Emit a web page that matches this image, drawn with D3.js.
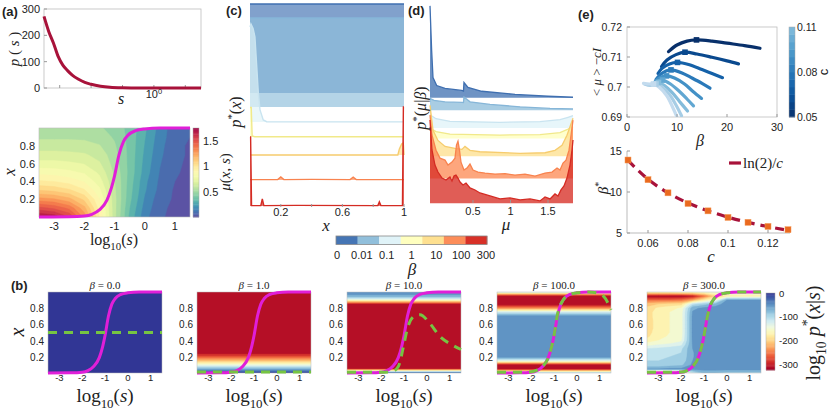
<!DOCTYPE html>
<html><head><meta charset="utf-8">
<script src="https://cdn.jsdelivr.net/npm/d3@7"></script>
<style>
body{margin:0;background:#fff}
svg{display:block;font-family:"Liberation Sans",Arial,sans-serif}
text{fill:#222}
</style></head><body>
<svg id="fig" width="830" height="410"></svg>
<script>
// ================= DATA =================
// (a) top: p(s) vs log10 s
const pLogS = [-3.5,-3.35,-3.2,-3.05,-2.9,-2.75,-2.6,-2.4,-2.2,-2.0,-1.7,-1.4,-1.0,-0.5,0,0.5,1,1.5];
const pVal  = [272,215,171,120,87,66,49,33,21,14,7,3,1,0.3,0,0,0,0];
const pTicks = [0,100,200,300];

// optimal threshold curve (magenta) x*(s)
const sigLogS = [-3.5,-2.5,-2,-1.75,-1.5,-1.25,-1.1,-1,-0.85,-0.7,-0.55,-0.3,0,0.5,1,1.5];
const sigX    = [0.0,0.002,0.01,0.03,0.08,0.19,0.33,0.46,0.7,0.85,0.92,0.97,0.99,1,1,1];

// (a) bottom: mu(x,s) grid; rows x = 0..1 step 0.1, cols log10 s = -3.5..1.5 step 0.5
const muLogS = [-3.5,-3,-2.5,-2,-1.5,-1,-0.5,0,0.5,1,1.5];
const muX = [0,0.1,0.2,0.3,0.4,0.5,0.6,0.7,0.8,0.9,1.0];
const muRows = [
 [1.72,1.68,1.55,1.30,0.95,0.60,0.33,0.15,0.06,0.03,0.02],
 [1.50,1.46,1.38,1.20,0.92,0.60,0.35,0.17,0.07,0.03,0.02],
 [1.28,1.26,1.20,1.08,0.88,0.60,0.37,0.19,0.08,0.04,0.02],
 [1.10,1.08,1.04,0.96,0.82,0.59,0.38,0.21,0.10,0.04,0.03],
 [0.96,0.95,0.92,0.87,0.76,0.58,0.39,0.22,0.11,0.05,0.03],
 [0.85,0.84,0.82,0.79,0.71,0.56,0.40,0.24,0.12,0.06,0.03],
 [0.75,0.75,0.74,0.72,0.66,0.54,0.40,0.25,0.13,0.06,0.04],
 [0.68,0.68,0.67,0.66,0.62,0.53,0.40,0.26,0.14,0.07,0.04],
 [0.61,0.61,0.61,0.60,0.58,0.51,0.40,0.27,0.15,0.07,0.04],
 [0.56,0.56,0.56,0.56,0.54,0.49,0.40,0.28,0.16,0.08,0.05],
 [0.52,0.52,0.52,0.52,0.51,0.47,0.40,0.29,0.17,0.08,0.05]
];
const muTicks = [0.5,1,1.5];

// (c),(d) beta levels
const betaLabels = ["0","0.01","0.1","1","10","100","300"];
const betaFill   = ["#4575b4","#91bfdb","#e0f3f8","#ffffbf","#fee090","#fc8d59","#d73027"];
const betaStroke = ["#3f6fb0","#86b6d8","#c9e4f0","#f1e98a","#f6cc6e","#f8834f","#d42b23"];

// (c) p*(x): per beta, offset and (x, height) samples
const cOff = [5.62,4.93,4.19,3.45,2.56,1.33,0.05];
const cX = [
 [0,1],
 [0,1],
 [0,0.006,0.02,0.032,0.044,0.054,0.065,0.086,0.108,0.2,0.5,1],
 [0,0.008,0.014,0.03,1],
 [0,0.96,0.97,0.985,0.995,1],
 [0,0.18,0.2,0.22,0.4,0.65,0.67,0.69,1],
 [0,0.004,0.01,0.07,0.08,0.09,0.3,0.83,0.84,0.85,0.99,0.996,1]
];
const cH = [
 [4.38,4.38],
 [4.38,4.38],
 [4.68,4.83,4.6,4.19,2.71,1.43,0.59,0.10,0.01,0.005,0.005,0.005],
 [1.45,1.45,0.05,0.01,0.01],
 [0,0,0.3,0.55,0.6,0],
 [0.02,0.02,0.15,0.02,0.03,0.02,0.14,0.02,0.02],
 [3.4,3.4,0.02,0.02,0.35,0.02,0.03,0.02,0.2,0.02,0.02,4.88,4.88]
];
const cTicks = [0.2,0.6,1];

// (d) p*(mu|beta)
const dOff = [5.30,4.67,3.78,3.26,2.36,1.25,0.0];
const dMu = [
 [-0.073,-0.051,-0.033,0.016,0.127,0.349,0.373,0.38,0.433,0.616,1.06,1.5,1.833],
 [-0.073,-0.02,0.127,0.353,0.373,0.38,0.46,0.727,1.127,1.527,1.833],
 [-0.073,0.007,0.193,0.86,1.393,1.66,1.767,1.833],
 [-0.073,0.007,0.193,0.86,1.393,1.66,1.767,1.833],
 [-0.073,-0.033,0.033,0.127,0.26,0.353,0.393,0.46,0.593,1.127,1.46,1.593,1.687,1.753,1.833],
 [-0.073,-0.047,0.007,0.06,0.127,0.167,0.22,0.26,0.28,0.30,0.32,0.34,0.38,0.42,0.46,0.50,0.567,0.66,0.793,0.927,1.06,1.193,1.327,1.46,1.553,1.62,1.66,1.70,1.74,1.78,1.807,1.833],
 [-0.073,-0.047,-0.007,0.033,0.087,0.14,0.193,0.22,0.247,0.273,0.30,0.327,0.367,0.407,0.46,0.527,0.593,0.727,0.86,0.993,1.127,1.26,1.393,1.46,1.527,1.593,1.633,1.673,1.713,1.753,1.793,1.82,1.833]
];
const dH = [
 [4.62,2.38,1.02,0.62,0.47,0.37,0.34,0.77,0.52,0.33,0.17,0.08,0.03],
 [0.60,0.50,0.43,0.40,0.39,0.67,0.43,0.30,0.18,0.10,0.075],
 [0.67,0.47,0.34,0.29,0.32,0.42,0.54,0.62],
 [0.52,0.34,0.22,0.17,0.19,0.29,0.47,0.59],
 [2.56,1.31,0.80,0.50,0.40,0.35,0.50,0.30,0.23,0.15,0.18,0.30,0.55,1.06,1.91],
 [3.18,2.18,1.42,1.02,0.92,0.67,0.82,1.02,1.67,1.87,1.42,0.82,0.42,0.52,0.72,0.42,0.32,0.27,0.22,0.24,0.17,0.22,0.12,0.27,0.32,0.52,0.42,0.77,0.92,1.42,2.18,2.93],
 [4.19,2.68,1.92,1.57,1.27,1.17,1.32,1.12,1.37,1.42,1.27,1.07,0.92,1.02,0.77,0.67,0.52,0.37,0.22,0.27,0.17,0.22,0.12,0.32,0.22,0.47,0.37,0.67,0.87,1.27,1.92,2.68,3.18]
];
const dTicks = [0.5,1,1.5];

// (e) top: <mu> - cI vs beta for each c
const eC = [0.05,0.06,0.07,0.08,0.09,0.10,0.11,0.12,0.13];
const eBeta = [
 [8.3,10,12,13.9,17,20,23.5,26.6],
 [6.9,8,9.8,11.6,14,17,20,22.3],
 [6.2,7,8.5,10.1,12.5,15,17,19.1],
 [5.8,6.8,7.8,8.8,11,13,15,16.6],
 [5.6,6.5,7.9,9.5,11.5,13.2,14.9],
 [5.5,6.3,7.1,8.7,10.5,12,13.3],
 [5.3,6.3,7.5,9,10.5,12.1],
 [3.5,4.7,5.8,7,8.5,9.8,10.9],
 [3.3,4.5,5.3,6.5,8,9.2,10.1]
];
const eVal = [
 [0.7118,0.7140,0.7153,0.7157,0.7153,0.7146,0.7138,0.7129],
 [0.7068,0.7090,0.7108,0.7116,0.7110,0.7099,0.7087,0.7077],
 [0.7045,0.7062,0.7077,0.7082,0.7074,0.7058,0.7045,0.7031],
 [0.7025,0.7043,0.7053,0.7057,0.7047,0.7030,0.7012,0.6996],
 [0.7018,0.7030,0.7037,0.7030,0.7010,0.6985,0.6962],
 [0.7015,0.7021,0.7023,0.7010,0.6985,0.6960,0.6937],
 [0.7012,0.7015,0.7005,0.6982,0.6952,0.6920],
 [0.7010,0.7005,0.7010,0.7000,0.6975,0.6940,0.6904],
 [0.7012,0.7010,0.7010,0.6998,0.6970,0.6930,0.6896]
];
const ePeakBeta = [13.9,11.6,10.1,8.8,7.9,7.1,6.3,5.8,5.3];
const ePeakVal  = [0.7157,0.7116,0.7082,0.7057,0.7037,0.7023,0.7015,0.7010,0.7010];
const eXTicks = [0,10,20,30];
const eYTicks = [0.69,0.70,0.71,0.72];
const eCbTicks = [0.05,0.08,0.11];

// (e) bottom: beta* vs c, and ln(2)/c
const bsC    = [0.05,0.06,0.07,0.08,0.09,0.10,0.11,0.12,0.13];
const bsStar = [13.9,11.5,9.9,8.6,7.7,6.9,6.3,5.8,5.4];
const lnC    = [0.05,0.06,0.07,0.08,0.09,0.10,0.11,0.12,0.13];
const lnVal  = [13.86,11.55,9.90,8.66,7.70,6.93,6.30,5.78,5.33];
const bsXTicks = [0.06,0.08,0.1,0.12];
const bsYTicks = [5,10,15];

// (b) log10 p*(x|s) fields; x grid 0..1 step 0.05
const bTitles = ["0.0","1.0","10.0","100.0","300.0"];
const prof0   = [0,0,0,0,0,0,0,0,0,0,0,0,0,0,0,0,0,0,0,0,0];
const prof1   = [-5,-70,-145,-210,-270,-315,-320,-320,-320,-320,-320,-320,-320,-320,-320,-320,-320,-320,-320,-320,-320];
const prof10  = [-30,-300,-320,-320,-320,-320,-320,-320,-320,-320,-320,-320,-320,-320,-320,-320,-320,-320,-160,-65,-50];
const prof100 = [-100,-320,-320,-140,-50,-50,-50,-50,-50,-50,-50,-50,-50,-50,-50,-120,-240,-320,-320,-320,-130];
// beta = 300: columns over log10 s = -3.5..1.5 step 0.5
const g300LogS = [-3.5,-3,-2.5,-2,-1.5,-1,-0.5,0,0.5,1,1.5];
const g300Cols = [
 [-280,-60,-95,-100,-102,-105,-120,-150,-170,-185,-190,-192,-192,-192,-190,-190,-195,-210,-260,-320,-170],
 [-280,-60,-95,-100,-102,-105,-115,-140,-160,-165,-168,-170,-170,-170,-170,-170,-175,-200,-260,-320,-170],
 [-280,-55,-90,-98,-100,-102,-110,-135,-155,-158,-160,-160,-160,-160,-160,-160,-165,-195,-260,-320,-170],
 [-270,-55,-85,-95,-98,-100,-105,-125,-145,-150,-152,-152,-152,-152,-152,-152,-158,-190,-255,-320,-165],
 [-120,-50,-55,-60,-62,-62,-60,-58,-56,-55,-55,-55,-55,-55,-55,-58,-65,-110,-230,-310,-160],
 [-80,-50,-48,-45,-45,-45,-45,-45,-45,-45,-45,-45,-48,-48,-48,-50,-55,-90,-180,-260,-150],
 [-80,-50,-50,-50,-50,-50,-50,-50,-50,-50,-50,-50,-50,-50,-50,-50,-50,-70,-150,-200,-140],
 [-90,-50,-50,-50,-50,-50,-50,-50,-50,-50,-50,-50,-50,-50,-50,-50,-50,-50,-60,-180,-130],
 [-90,-50,-50,-50,-50,-50,-50,-50,-50,-50,-50,-50,-50,-50,-50,-50,-50,-50,-60,-180,-130],
 [-90,-50,-50,-50,-50,-50,-50,-50,-50,-50,-50,-50,-50,-50,-50,-50,-50,-50,-60,-180,-130],
 [-90,-50,-50,-50,-50,-50,-50,-50,-50,-50,-50,-50,-50,-50,-50,-50,-50,-50,-60,-180,-130]
];
// green dashed curves per beta panel
const gLogS = [
 [-3.5,1.5],
 [-3.5,1.5],
 [-3.5,-1.9,-1.5,-1.25,-1.03,-0.85,-0.56,-0.3,0.14,0.58,1.09,1.5],
 [-3.5,-2.5,-2,-1.75,-1.5,-1.25,-1,-0.85,-0.6,-0.3,0,0.5,1.0,1.25,1.5],
 [-3.5,-2.5,-2,-1.75,-1.5,-1.25,-1.1,-1,-0.85,-0.7,-0.55,-0.3,0,0.5,1,1.5]
];
const gX = [
 [0.5,0.5],
 [0.012,0.012],
 [0.01,0.01,0.02,0.08,0.32,0.55,0.70,0.72,0.61,0.45,0.35,0.29],
 [0.01,0.01,0.015,0.035,0.08,0.19,0.46,0.72,0.9,0.97,0.99,1.0,0.98,0.92,0.78],
 [0.01,0.01,0.012,0.03,0.08,0.19,0.33,0.46,0.7,0.85,0.92,0.97,0.99,1,1,1]
];
const bXTicks = [-3,-2,-1,0,1];
const bYTicks = [0.2,0.4,0.6,0.8];
const bCbTicks = [0,-100,-200,-300];

// ================= DRAWING =================
const SERIF = '"Liberation Serif","DejaVu Serif",serif';
const SANS = '"Liberation Sans",Arial,sans-serif';
const svg = d3.select('#fig');
const defs = svg.append('defs');

function mtext(g, x, y, parts, size, anchor, rot, fam) {
  const t = g.append('text').attr('font-family', fam || SERIF).attr('font-size', size)
    .attr('text-anchor', anchor || 'middle')
    .attr('transform', `translate(${x},${y}) rotate(${rot || 0})`);
  let shift = 0;
  parts.forEach(([s, st]) => {
    const ts = t.append('tspan').text(s);
    let target = 0, fs = size;
    if (st.indexOf('_') >= 0) { target = 0.32 * size; fs = 0.68 * size; }
    if (st.indexOf('^') >= 0) { target = -0.4 * size; fs = 0.68 * size; }
    ts.attr('font-size', fs);
    if (target !== shift) { ts.attr('dy', target - shift); shift = target; }
    if (st.indexOf('i') >= 0) ts.attr('font-style', 'italic');
  });
  return t;
}
function label(g, x, y, s, size, anchor, extra) {
  const t = g.append('text').attr('x', x).attr('y', y).attr('font-size', size || 11)
    .attr('text-anchor', anchor || 'middle').text(s);
  if (extra) extra(t);
  return t;
}
function clip(id, x0, y0, x1, y1) {
  defs.append('clipPath').attr('id', id).append('rect')
    .attr('x', x0).attr('y', y0).attr('width', x1 - x0).attr('height', y1 - y0);
}
function contourFill(g, values, nx, ny, sArr, xArr, xs, ys, thresholds, colorFn, clipId) {
  const ds = sArr.length > 1 ? sArr[1] - sArr[0] : 1;
  const dxv = xArr[1] - xArr[0];
  const s0 = sArr[0], x0 = xArr[0];
  const proj = d3.geoTransform({ point: function (x, y) {
    this.stream.point(xs(s0 + (x - 0.5) * ds), ys(x0 + (y - 0.5) * dxv));
  }});
  const path = d3.geoPath(proj);
  const cs = d3.contours().size([nx, ny]).thresholds(thresholds)(values);
  g.append('g').attr('clip-path', `url(#${clipId})`).selectAll('path').data(cs).join('path')
    .attr('d', path).attr('fill', d => colorFn(d.value)).attr('stroke', d => colorFn(d.value)).attr('stroke-width', 0.4);
}

// ---------- (a) top ----------
{
  const g = svg.append('g');
  const xA = d3.scaleLinear().domain([-3.5, 1.5]).range([44, 201]);
  const yA = d3.scaleLinear().domain([0, 300]).range([88, 9]);
  g.append('rect').attr('x', 44).attr('y', 9).attr('width', 157).attr('height', 79)
    .attr('fill', 'none').attr('stroke', '#bdbdbd').attr('stroke-width', 0.8);
  pTicks.forEach(v => {
    label(g, 40, yA(v) + 4, v, 11, 'end');
    g.append('line').attr('x1', 44).attr('x2', 47).attr('y1', yA(v)).attr('y2', yA(v)).attr('stroke', '#999');
  });
  [-3, -2, -1, 0, 1].forEach(v => g.append('line').attr('x1', xA(v)).attr('x2', xA(v)).attr('y1', 88).attr('y2', 85).attr('stroke', '#999'));
  const line = d3.line().x((d, i) => xA(pLogS[i])).y(d => yA(d)).curve(d3.curveMonotoneX);
  g.append('path').attr('d', line(pVal)).attr('fill', 'none').attr('stroke', '#a8123a').attr('stroke-width', 3);
  mtext(g, xA(0), 98, [['10', ''], ['0', '^']], 11, 'middle', 0, SANS);
  mtext(g, 121, 104, [['s', 'i']], 16);
  mtext(g, 19, 49, [['p', 'i'], [' ( ', ''], ['s', 'i'], [' )', '']], 15, 'middle', -90);
  label(g, 2, 16, '(a)', 13, 'start', t => t.attr('font-weight', 'bold'));
}

// ---------- (a) bottom heatmap ----------
{
  const g = svg.append('g');
  const xs = d3.scaleLinear().domain([-3.5, 1.5]).range([39, 190]);
  const ys = d3.scaleLinear().domain([0, 1]).range([217, 128]);
  clip('clipA', 39, 128, 190, 217);
  const muColor = v => d3.interpolateSpectral(Math.max(0, Math.min(1, 1 - v / 1.75)));
  const vals = [];
  muRows.forEach(r => r.forEach(v => vals.push(v)));
  const th = d3.range(-0.1, 1.8, 0.075);
  contourFill(g, vals, muLogS.length, muX.length, muLogS, muX, xs, ys, th, t => muColor(t + 0.0375), 'clipA');
  g.append('rect').attr('x', 39).attr('y', 128).attr('width', 151).attr('height', 89)
    .attr('fill', 'none').attr('stroke', '#bbb').attr('stroke-width', 0.6);
  const sl = d3.line().x((d, i) => xs(sigLogS[i])).y(d => ys(d)).curve(d3.curveMonotoneX);
  g.append('path').attr('d', sl(sigX)).attr('fill', 'none').attr('stroke', '#e01fd8').attr('stroke-width', 3);
  [-3, -2, -1, 0, 1].forEach(v => label(g, xs(v), 230, String(v), 11));
  [0.2, 0.4, 0.6, 0.8].forEach(v => label(g, 35, ys(v) + 4, String(v), 11, 'end'));
  mtext(g, 114, 245, [['log', ''], ['10', '_'], ['(', ''], ['s', 'i'], [')', '']], 16);
  mtext(g, 15, 172, [['x', 'i']], 17, 'middle', -90);
  // colorbar
  const cy = d3.scaleLinear().domain([0, 1.75]).range([217, 128]);
  const steps = d3.range(0, 1.75, 0.025);
  g.selectAll('rect.cba').data(steps).join('rect').attr('x', 193).attr('width', 6)
    .attr('y', d => cy(d + 0.025)).attr('height', d => cy(d) - cy(d + 0.025) + 0.4)
    .attr('fill', d => muColor(d + 0.0125));
  g.append('rect').attr('x', 193).attr('y', 128).attr('width', 6).attr('height', 89)
    .attr('fill', 'none').attr('stroke', '#aaa').attr('stroke-width', 0.5);
  muTicks.forEach(v => label(g, 203, cy(v) + 4, String(v), 11, 'start'));
  mtext(g, 230, 172, [['μ', 'i'], ['(', ''], ['x', 'i'], [', ', ''], ['s', 'i'], [')', '']], 15, 'middle', -90);
}

// ---------- (c) ----------
{
  const g = svg.append('g');
  const xC = d3.scaleLinear().domain([0, 1]).range([250, 404]);
  const yC = d3.scaleLinear().domain([0, 10]).range([207, 4]);
  cX.forEach((xsArr, k) => {
    const pts = xsArr.map((x, i) => [x, cH[k][i]]);
    const area = d3.area().x(d => xC(d[0])).y0(yC(cOff[k])).y1(d => yC(cOff[k] + d[1]));
    const ln = d3.line().x(d => xC(d[0])).y(d => yC(cOff[k] + d[1]));
    g.append('path').attr('d', area(pts)).attr('fill', betaFill[k]).attr('fill-opacity', 0.68);
    g.append('path').attr('d', ln(pts)).attr('fill', 'none').attr('stroke', betaStroke[k]).attr('stroke-width', 1.4);
  });
  cTicks.forEach(v => {
    label(g, xC(v), 216, String(v), 11);
    g.append('line').attr('x1', xC(v)).attr('x2', xC(v)).attr('y1', 207).attr('y2', 204).attr('stroke', '#999');
  });
  [0.4, 0.8].forEach(v => g.append('line').attr('x1', xC(v)).attr('x2', xC(v)).attr('y1', 207).attr('y2', 204).attr('stroke', '#999'));
  mtext(g, 326, 231, [['x', 'i']], 17);
  mtext(g, 241, 112, [['p', 'i'], ['*', '^'], ['(', ''], ['x', 'i'], [')', '']], 16, 'middle', -90);
  label(g, 226, 15, '(c)', 13, 'start', t => t.attr('font-weight', 'bold'));
}

// ---------- (d) ----------
{
  const g = svg.append('g');
  const xD = d3.scaleLinear().domain([-0.073, 1.833]).range([430, 573]);
  const yD = d3.scaleLinear().domain([0, 10]).range([203.3, 4.3]);
  dMu.forEach((mus, k) => {
    const pts = mus.map((m, i) => [m, dH[k][i]]);
    const area = d3.area().x(d => xD(d[0])).y0(yD(dOff[k])).y1(d => yD(dOff[k] + d[1]));
    const ln = d3.line().x(d => xD(d[0])).y(d => yD(dOff[k] + d[1]));
    g.append('path').attr('d', area(pts)).attr('fill', betaFill[k]).attr('fill-opacity', 0.78);
    g.append('path').attr('d', ln(pts)).attr('fill', 'none').attr('stroke', betaStroke[k]).attr('stroke-width', 1.3);
  });
  dTicks.forEach(v => {
    label(g, xD(v), 215, String(v), 11);
    g.append('line').attr('x1', xD(v)).attr('x2', xD(v)).attr('y1', 203).attr('y2', 200).attr('stroke', '#999');
  });
  mtext(g, 506, 230, [['μ', 'i']], 17);
  mtext(g, 426, 108, [['p', 'i'], ['*', '^'], ['(', ''], ['μ', 'i'], ['|', ''], ['β', 'i'], [')', '']], 16, 'middle', -90);
  label(g, 408, 15, '(d)', 13, 'start', t => t.attr('font-weight', 'bold'));
}

// ---------- beta colorbar ----------
{
  const g = svg.append('g');
  const bx = d3.scaleBand().domain(betaLabels).range([336, 487]).padding(0);
  g.selectAll('rect.bb').data(betaLabels).join('rect').attr('x', d => bx(d)).attr('y', 236)
    .attr('width', bx.bandwidth() + 0.3).attr('height', 8.5).attr('fill', (d, i) => betaFill[i]);
  g.append('rect').attr('x', 336).attr('y', 236).attr('width', 151).attr('height', 8.5)
    .attr('fill', 'none').attr('stroke', '#888').attr('stroke-width', 0.8);
  const lp = d3.scalePoint().domain(betaLabels).range([337, 486]);
  betaLabels.forEach(b => label(g, lp(b), 259, b, 11));
  mtext(g, 412, 275, [['β', 'i']], 17);
}

// ---------- (e) top ----------
{
  const g = svg.append('g');
  const xE = d3.scaleLinear().domain([0, 30]).range([627, 777]);
  const yE = d3.scaleLinear().domain([0.69, 0.72]).range([117, 27]);
  clip('clipE', 627, 27, 777, 117);
  const eColor = c => d3.interpolateBlues(Math.max(0.2, 1 - (c - 0.05) / 0.08 * 0.75));
  g.append('rect').attr('x', 627).attr('y', 27).attr('width', 150).attr('height', 90)
    .attr('fill', 'none').attr('stroke', '#bdbdbd').attr('stroke-width', 0.8);
  const cg = g.append('g').attr('clip-path', 'url(#clipE)');
  eC.forEach((c, k) => {
    const pts = eBeta[k].map((b, i) => [b, eVal[k][i]]);
    const ln = d3.line().x(d => xE(d[0])).y(d => yE(d[1])).curve(d3.curveCatmullRom);
    cg.append('path').attr('d', ln(pts)).attr('fill', 'none').attr('stroke', eColor(c))
      .attr('stroke-width', 3.2).attr('stroke-linecap', 'round');
  });
  eC.forEach((c, k) => {
    cg.append('rect').attr('x', xE(ePeakBeta[k]) - 2.8).attr('y', yE(ePeakVal[k]) - 2.8)
      .attr('width', 5.6).attr('height', 5.6).attr('fill', eColor(c));
  });
  eXTicks.forEach(v => {
    label(g, xE(v), 131, String(v), 11);
    g.append('line').attr('x1', xE(v)).attr('x2', xE(v)).attr('y1', 117).attr('y2', 114).attr('stroke', '#999');
  });
  eYTicks.forEach(v => {
    label(g, 622, yE(v) + 4, d3.format('~g')(v), 10.5, 'end');
    g.append('line').attr('x1', 627).attr('x2', 630).attr('y1', yE(v)).attr('y2', yE(v)).attr('stroke', '#999');
  });
  mtext(g, 700, 146, [['β', 'i']], 16);
  mtext(g, 601, 72, [['<', ''], [' μ ', 'i'], ['>', ''], [' −', ''], ['cI', 'i']], 13, 'middle', -90);
  // colorbar c
  const cy = d3.scaleLinear().domain([0.05, 0.11]).range([117, 27]);
  const st = d3.range(0.05, 0.11, 0.005);
  g.selectAll('rect.cbe').data(st).join('rect').attr('x', 789).attr('width', 6)
    .attr('y', d => cy(d + 0.005)).attr('height', d => cy(d) - cy(d + 0.005) + 0.4)
    .attr('fill', d => eColor(d + 0.0025));
  g.append('rect').attr('x', 789).attr('y', 27).attr('width', 6).attr('height', 90)
    .attr('fill', 'none').attr('stroke', '#aaa').attr('stroke-width', 0.5);
  eCbTicks.forEach(v => label(g, 797, cy(v) + 4, String(v), 10.5, 'start'));
  mtext(g, 828, 72, [['c', '']], 13, 'middle', -90, SANS);
  label(g, 578, 19, '(e)', 13, 'start', t => t.attr('font-weight', 'bold'));
}

// ---------- (e) bottom ----------
{
  const g = svg.append('g');
  const xB = d3.scaleLinear().domain([0.05, 0.13]).range([628, 788]);
  const yB = d3.scaleLinear().domain([5, 15]).range([233, 151]);
  g.append('line').attr('x1', 627).attr('x2', 627).attr('y1', 151).attr('y2', 233).attr('stroke', '#bbb');
  g.append('line').attr('x1', 627).attr('x2', 790).attr('y1', 233).attr('y2', 233).attr('stroke', '#bbb');
  bsXTicks.forEach(v => {
    label(g, xB(v), 247, String(v), 11);
    g.append('line').attr('x1', xB(v)).attr('x2', xB(v)).attr('y1', 233).attr('y2', 230).attr('stroke', '#999');
  });
  bsYTicks.forEach(v => {
    label(g, 622, yB(v) + 4, String(v), 11, 'end');
    g.append('line').attr('x1', 627).attr('x2', 630).attr('y1', yB(v)).attr('y2', yB(v)).attr('stroke', '#999');
  });
  const ln = d3.line().x((d, i) => xB(lnC[i])).y(d => yB(d)).curve(d3.curveMonotoneX);
  g.append('path').attr('d', ln(lnVal)).attr('fill', 'none').attr('stroke', '#a8123a')
    .attr('stroke-width', 3.2).attr('stroke-dasharray', '9,6');
  g.selectAll('rect.sq').data(bsC).join('rect').attr('x', d => xB(d) - 3).attr('y', (d, i) => yB(bsStar[i]) - 3)
    .attr('width', 6).attr('height', 6).attr('fill', '#ea6a1f').attr('stroke', '#f39a5a').attr('stroke-width', 0.5);
  g.append('line').attr('x1', 729).attr('x2', 741).attr('y1', 163).attr('y2', 163).attr('stroke', '#a8123a').attr('stroke-width', 3.2);
  mtext(g, 743, 168, [['ln(2)/', ''], ['c', 'i']], 15, 'start');
  mtext(g, 711, 262, [['c', 'i']], 17);
  mtext(g, 608, 188, [['β', 'i'], ['*', '^']], 15, 'middle', -90);
}

// ---------- (b) ----------
{
  const bColor = v => d3.interpolateRdYlBu(Math.max(0, Math.min(1, (v + 320) / 320)));
  const lefts = [48, 197, 347, 497, 647];
  const W = 114, top = 292, bot = 373;
  const th = d3.range(-340, 1, 20);
  const profs = [prof0, prof1, prof10, prof100];
  const xGrid = d3.range(21).map(i => i * 0.05);
  lefts.forEach((L, k) => {
    const g = svg.append('g');
    const xs = d3.scaleLinear().domain([-3.5, 1.5]).range([L, L + W]);
    const ys = d3.scaleLinear().domain([0, 1]).range([bot, top]);
    const id = 'clipB' + k;
    clip(id, L, top, L + W, bot);
    let vals, nx, sArr;
    if (k < 4) {
      vals = []; profs[k].forEach(v => { vals.push(v, v); });
      nx = 2; sArr = [-3.5, 1.5];
    } else {
      vals = [];
      for (let j = 0; j < 21; j++) for (let i = 0; i < g300LogS.length; i++) vals.push(g300Cols[i][j]);
      nx = g300LogS.length; sArr = g300LogS;
    }
    contourFill(g, vals, nx, 21, sArr, xGrid, xs, ys, th, t => bColor(Math.min(0, t + 10)), id);
    g.append('rect').attr('x', L).attr('y', top).attr('width', W).attr('height', bot - top)
      .attr('fill', 'none').attr('stroke', '#bbb').attr('stroke-width', 0.5);
    const sl = d3.line().x((d, i) => xs(sigLogS[i])).y(d => ys(d)).curve(d3.curveMonotoneX);
    g.append('path').attr('d', sl(sigX)).attr('fill', 'none').attr('stroke', '#e01fd8').attr('stroke-width', 3);
    const gl = d3.line().x((d, i) => xs(gLogS[k][i])).y(d => ys(d)).curve(d3.curveMonotoneX);
    g.append('path').attr('d', gl(gX[k])).attr('fill', 'none').attr('stroke', '#76c442')
      .attr('stroke-width', 3).attr('stroke-dasharray', '9,7');
    bXTicks.forEach(v => label(g, xs(v), 381, String(v), 9.5));
    bYTicks.forEach(v => label(g, L - 4, ys(v) + 4, String(v), 10, 'end'));
    mtext(g, L + W / 2, 289, [['β', 'i'], [' = ' + bTitles[k], '']], 11);
    mtext(g, L + W / 2, 402, [['log', ''], ['10', '_'], ['(', ''], ['s', 'i'], [')', '']], 19);
  });
  const g = svg.append('g');
  mtext(g, 24, 332, [['x', 'i']], 20, 'middle', -90);
  label(g, 11, 290, '(b)', 13, 'start', t => t.attr('font-weight', 'bold'));
  // colorbar
  const cy = d3.scaleLinear().domain([-325, 0]).range([370, 293]);
  const st = d3.range(-325, 0, 5);
  g.selectAll('rect.cbb').data(st).join('rect').attr('x', 766).attr('width', 9)
    .attr('y', d => cy(d + 5)).attr('height', d => cy(d) - cy(d + 5) + 0.4)
    .attr('fill', d => bColor(d + 2.5));
  g.append('rect').attr('x', 766).attr('y', 293).attr('width', 9).attr('height', 77)
    .attr('fill', 'none').attr('stroke', '#aaa').attr('stroke-width', 0.5);
  bCbTicks.forEach(v => label(g, 779, cy(v) + 3.5, String(v), 9.5, 'start'));
  mtext(g, 820, 333, [['log', ''], ['10', '_'], [' ', ''], ['p', 'i'], ['*', '^'], ['(', ''], ['x', 'i'], ['|', ''], ['s', 'i'], [')', '']], 20, 'middle', -90);
}
</script>
</body></html>
